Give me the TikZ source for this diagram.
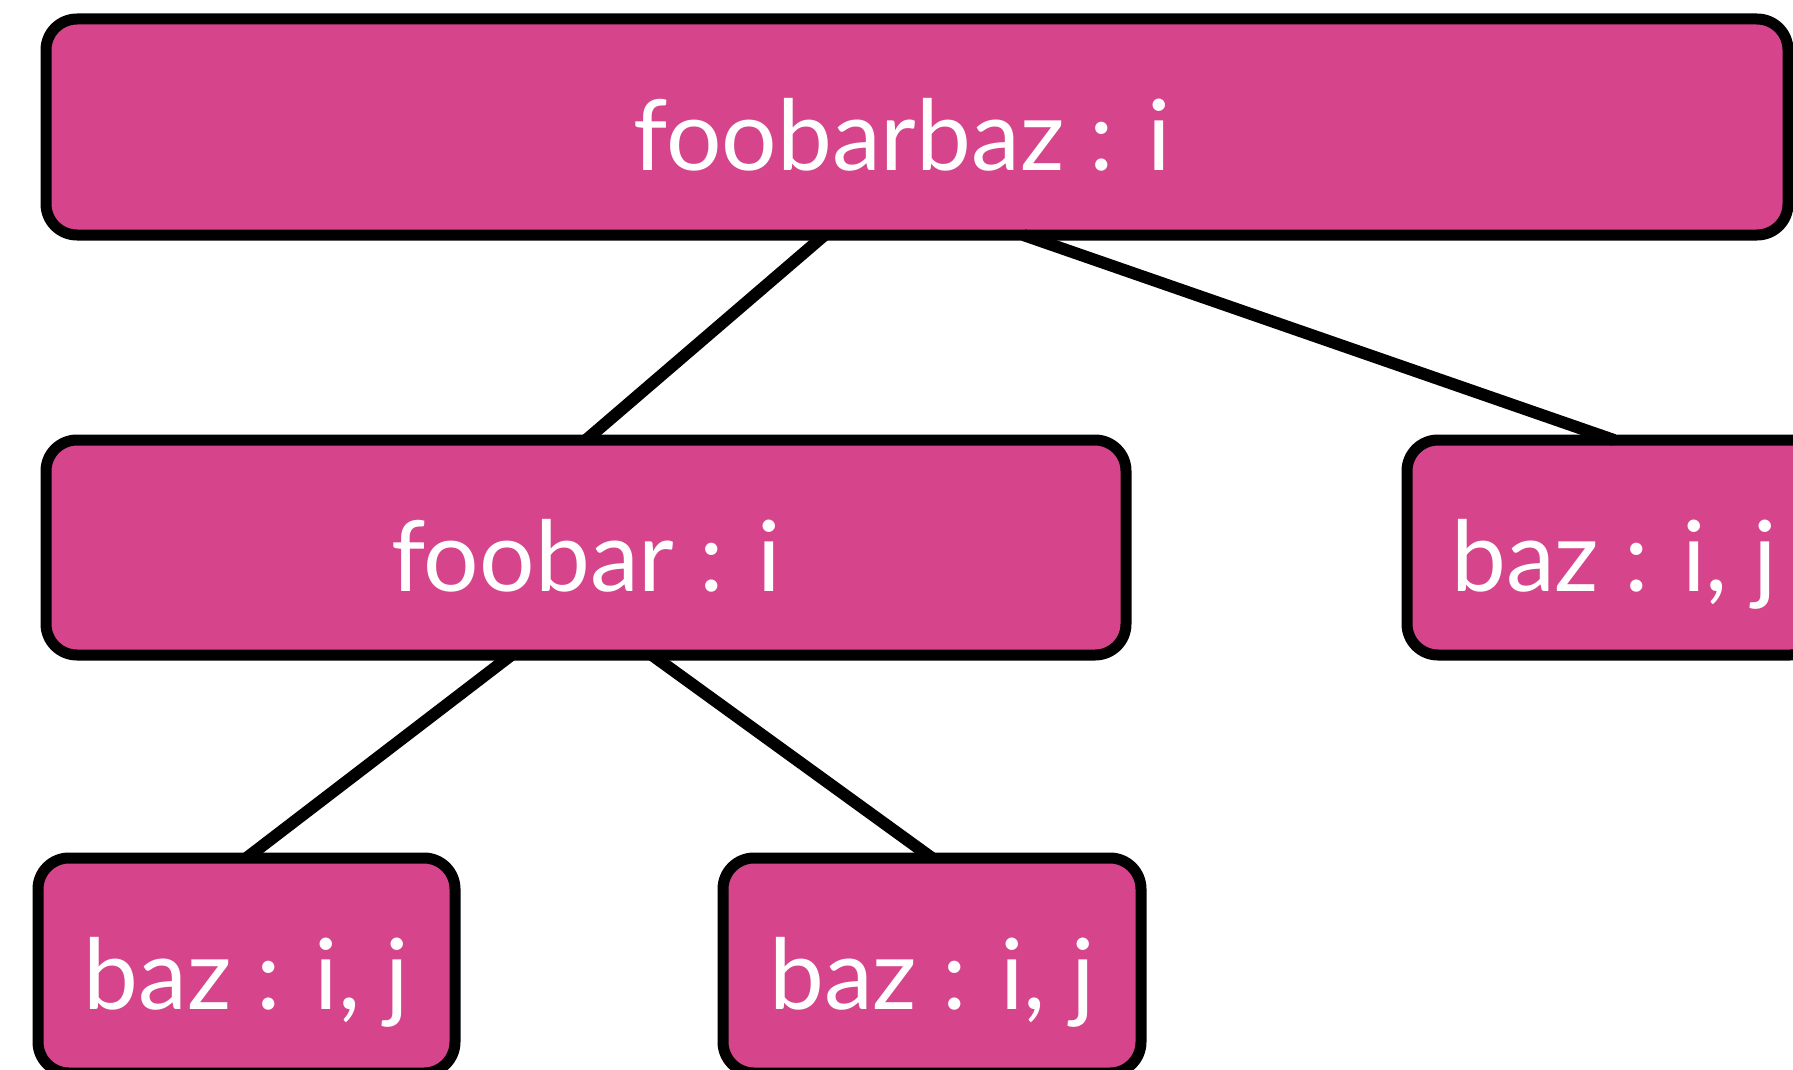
\documentclass[tikz,border=0pt]{standalone}
\usepackage{fontspec}
\setmainfont{Lato}
\usetikzlibrary{calc}
\definecolor{boxpink}{RGB}{214,68,139}
\tikzset{
  box/.style={draw=black, line width=11pt, fill=boxpink, rounded corners=31pt,
    inner sep=0pt, outer sep=0pt, anchor=north west, text=white,
    font=\fontsize{98}{110}\selectfont, text height=87pt, text depth=0pt},
  edge/.style={draw=black, line width=12pt, line cap=butt}
}
\begin{document}
\begin{tikzpicture}[x=1pt,y=-1pt]
\useasboundingbox (0,0) rectangle (1793,1070);
\clip (0,0) rectangle (1793,1070);
\fill[white] (0,0) rectangle (1793,1070);
\node[box, minimum width=1742pt, minimum height=216pt] (top) at (46,19) {\hspace*{-30pt}foobarbaz : i};
\node[box, minimum width=1080pt, minimum height=215pt] (mid) at (46,440) {foobar : i};
\node[box, minimum width=414pt, minimum height=215pt] (right) at (1407,440) {baz : i, j};
\node[box, minimum width=417pt, minimum height=215pt] (bl) at (38,858) {baz : i, j};
\node[box, minimum width=418pt, minimum height=215pt] (bm) at (723,858) {baz : i, j};
\draw[edge] ($(top.south west)!0.447!(top.south east)$) -- (mid.north);
\draw[edge] ($(top.south west)!0.561!(top.south east)$) -- (right.north);
\draw[edge] ($(mid.south west)!0.431!(mid.south east)$) -- (bl.north);
\draw[edge] ($(mid.south west)!0.561!(mid.south east)$) -- (bm.north);
\end{tikzpicture}
\end{document}
